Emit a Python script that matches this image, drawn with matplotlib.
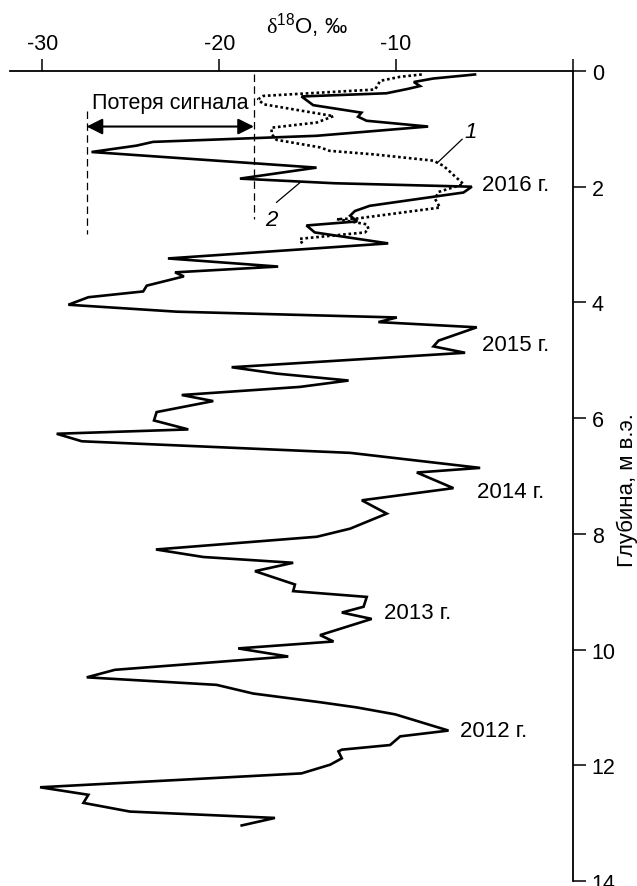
import matplotlib
matplotlib.use('Agg')
import matplotlib.pyplot as plt

plt.rcParams['font.family'] = ['Liberation Sans', 'DejaVu Sans']
plt.rcParams['mathtext.fontset'] = 'custom'
plt.rcParams['mathtext.rm'] = 'Liberation Serif'
plt.rcParams['mathtext.sf'] = 'Liberation Sans'

# профиль 2 (керн), δ18O и глубина, м в.э.
d18o_2 = [-5.54, -7.9, -9.0, -8.65, -9.35, -10.55, -15.35, -14.69, -11.96, -12.15,
          -11.67, -8.19, -14.5, -23.74, -24.68, -27.22, -14.5, -18.83, -13.5, -5.72,
          -6.19, -11.49, -12.33, -12.6, -12.2, -15.07, -14.6, -10.45, -22.9, -16.67,
          -22.5, -22.0, -24.1, -24.3, -27.4, -28.53, -22.4, -9.96, -11.0, -5.44,
          -7.6, -7.89, -6.1, -19.3, -16.76, -12.69, -15.44, -22.12, -20.34, -23.54,
          -23.69, -21.75, -29.19, -27.77, -12.6, -5.25, -8.83, -6.76, -11.94, -10.53,
          -12.6, -14.48, -23.58, -20.9, -15.82, -17.98, -15.72, -15.82, -11.66, -11.84,
          -13.07, -11.38, -14.3, -13.54, -18.93, -16.1, -25.9, -27.49, -20.15, -18.08,
          -14.3, -12.22, -10.05, -7.04, -9.77, -10.34, -13.07, -13.26, -13.07, -13.73,
          -15.35, -30.13, -27.4, -27.68, -25.05, -16.85, -18.73]
depth_2 = [0.06, 0.13, 0.19, 0.26, 0.31, 0.385, 0.44, 0.59, 0.72, 0.79,
           0.86, 0.96, 1.12, 1.225, 1.29, 1.40, 1.67, 1.86, 1.94, 2.0,
           2.10, 2.33, 2.42, 2.50, 2.60, 2.67, 2.79, 2.98, 3.24, 3.38,
           3.48, 3.55, 3.71, 3.81, 3.91, 4.04, 4.16, 4.26, 4.34, 4.43,
           4.66, 4.76, 4.87, 5.12, 5.23, 5.35, 5.46, 5.60, 5.705, 5.895,
           6.04, 6.195, 6.27, 6.40, 6.60, 6.86, 6.94, 7.21, 7.42, 7.65,
           7.91, 8.05, 8.27, 8.40, 8.50, 8.645, 8.875, 8.99, 9.09, 9.26,
           9.36, 9.47, 9.75, 9.86, 9.98, 10.12, 10.35, 10.48, 10.61, 10.76,
           10.91, 11.0, 11.12, 11.40, 11.50, 11.65, 11.73, 11.76, 11.88, 11.99,
           12.14, 12.38, 12.51, 12.65, 12.80, 12.91, 13.04]

# профиль 1 (шурф)
d18o_1 = [-8.55, -9.77, -10.9, -11.19, -17.5, -17.8, -17.5, -13.54, -14.48, -17.04,
          -17.04, -16.76, -14.3, -13.76, -11.3, -7.89, -7.32, -6.19, -7.6, -7.8,
          -7.52, -12.22, -13.35, -11.66, -11.56, -11.76, -15.44, -15.25]
depth_1 = [0.06, 0.10, 0.17, 0.32, 0.43, 0.49, 0.575, 0.78, 0.89, 0.98,
           1.09, 1.19, 1.32, 1.38, 1.44, 1.55, 1.64, 1.955, 2.09, 2.21,
           2.36, 2.55, 2.56, 2.65, 2.73, 2.79, 2.90, 3.02]

years = ['2016 г.', '2015 г.', '2014 г.', '2013 г.', '2012 г.']
year_x = [-5.12, -5.16, -5.4, -10.66, -6.4]
year_depth = [1.97, 4.72, 7.26, 9.36, 11.40]

loss_left, loss_right = -27.5, -18.04

fig = plt.figure(figsize=(6.37, 8.87), dpi=100)
ax = fig.add_axes([10 / 637, 5 / 887, 563 / 637, 810 / 887])

ax.plot(d18o_2, depth_2, color='black', lw=1.9, solid_joinstyle='miter')
ax.plot(d18o_1, depth_1, color='black', lw=1.9, linestyle=(0, (1, 1.05)))

# потеря сигнала
ax.plot([loss_left, loss_left], [0.69, 2.82], color='black', lw=0.9,
        linestyle=(0, (6, 3.5)))
ax.plot([loss_right, loss_right], [0.06, 2.56], color='black', lw=0.9,
        linestyle=(0, (6, 3.5)))
ax.annotate('', xy=(loss_left, 0.96), xytext=(loss_right, 0.96),
            arrowprops=dict(arrowstyle='<|-|>,head_length=0.6,head_width=0.3',
                            lw=1.5, color='black', mutation_scale=16,
                            shrinkA=0, shrinkB=0))
ax.text((loss_left + loss_right) / 2, 0.545, 'Потеря сигнала', fontsize=15.5,
        ha='center', va='center')

# номера кривых
ax.plot([-6.27, -7.68], [1.18, 1.59], color='black', lw=0.9)
ax.text(-6.15, 1.22, '1', fontsize=16, style='italic', ha='left', va='bottom')
ax.plot([-16.76, -15.44], [2.27, 1.93], color='black', lw=0.9)
ax.text(-17.04, 2.56, '2', fontsize=16, style='italic', ha='center', va='center')

for lab, x, d in zip(years, year_x, year_depth):
    ax.text(x, d, lab, fontsize=16, ha='left', va='center')

ax.set_xlim(-31.83, 0)
ax.set_ylim(14, 0)

for side in ['left', 'bottom']:
    ax.spines[side].set_visible(False)
for side in ['top', 'right']:
    ax.spines[side].set_linewidth(1.3)

ax.xaxis.tick_top()
ax.xaxis.set_label_position('top')
ax.yaxis.tick_right()
ax.yaxis.set_label_position('right')
ax.set_xticks([-30, -20, -10, 0])
ax.set_xticklabels(['-30', '-20', '-10', ''])
ax.set_yticks(range(0, 15, 2))
ax.tick_params(axis='x', direction='out', length=9, width=1.1, pad=3,
               labelsize=15.5)
ax.tick_params(axis='y', direction='out', length=9.5, width=1.1, pad=4,
               labelsize=15.5)

ax.set_xlabel(r'$\mathrm{\delta}^{\mathsf{18}}$O, ‰', fontsize=16)
ax.xaxis.set_label_coords(0.527, 1.048)
ax.set_ylabel('Глубина, м в.э.', fontsize=16)
ax.yaxis.set_label_coords(1.077, 0.484)

fig.savefig('out.png', dpi=100)
